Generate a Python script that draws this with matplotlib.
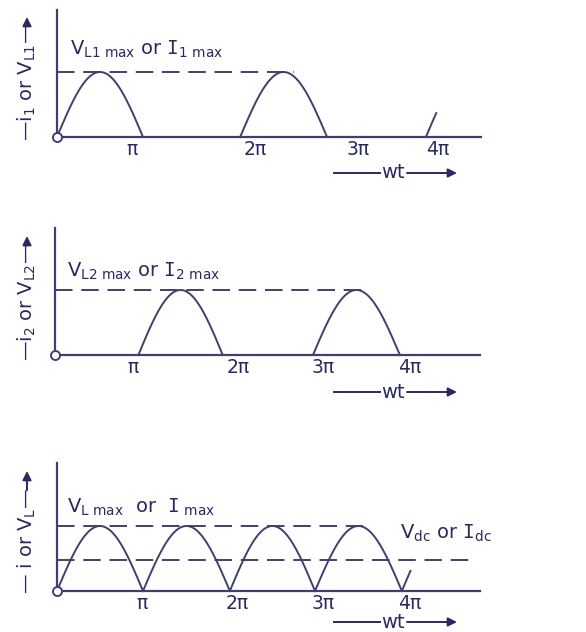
import numpy as np
import matplotlib
matplotlib.use("Agg")
import matplotlib.pyplot as plt

plt.rcParams['mathtext.default'] = 'regular'
plt.rcParams['font.family'] = ['DejaVu Sans']

W, H = 586, 632
LINE = '#40406f'
TEXT = '#2a2a62'

# ---- data (x in units of pi, y relative to max) ----
tick_labels = ['π', '2π', '3π', '4π']

p1_humps = [(0.0, 1.0), (2.13, 3.14)]
p1_stub = (4.29, 0.12)           # start of next half-cycle (start, fraction drawn)
p1_ticks = [0.87, 2.30, 3.50, 4.43]
p1_max_end = 2.75

p2_humps = [(0.97, 1.95), (3.0, 4.01)]
p2_ticks = [0.91, 2.13, 3.12, 4.13]
p2_max_end = 3.57

p3_humps = [(0.0, 1.0), (1.0, 2.01), (2.01, 3.0), (3.0, 4.01)]
p3_stub = (4.01, 0.10)
p3_ticks = [0.99, 2.09, 3.09, 4.10]
p3_max_end = 3.56
p3_dc = 0.48
p3_dc_end = 4.83

fig = plt.figure(figsize=(W / 100, H / 100), dpi=100)
fig.patch.set_facecolor('white')

PX_PER_PI = 86.0
PX_PER_UNIT = 65.0


def make_axes(x0, base, top, xend):
    ax = fig.add_axes([x0 / W, 1 - base / H, (xend - x0) / W, (base - top) / H])
    ax.set_xlim(0, (xend - x0) / PX_PER_PI)
    ax.set_ylim(0, (base - top) / PX_PER_UNIT)
    for s in ('top', 'right'):
        ax.spines[s].set_visible(False)
    for s in ('left', 'bottom'):
        ax.spines[s].set_color(LINE)
        ax.spines[s].set_linewidth(1.6)
    ax.set_yticks([])
    ax.patch.set_alpha(0)
    return ax


def hump(ax, a, b, frac=1.0):
    t = np.linspace(0, frac, 80)
    ax.plot(a + (b - a) * t, np.sin(np.pi * t), color=LINE, lw=1.4,
            clip_on=False, zorder=3)


def dashed(ax, y, x_end):
    ax.plot([0, x_end], [y, y], color=LINE, lw=1.4, ls=(0, (9, 4.5)),
            clip_on=False, zorder=2)


def ticks(ax, pos):
    ax.set_xticks(pos)
    ax.set_xticklabels(tick_labels, fontsize=13.5, color=TEXT)
    ax.tick_params(axis='x', length=0, pad=2)


def origin(ax):
    ax.plot([0], [0], 'o', ms=6.5, mfc='white', mec=LINE, mew=1.4,
            clip_on=False, zorder=6)


# panel 1
ax1 = make_axes(57, 137, 10, 481)
for a, b in p1_humps:
    hump(ax1, a, b)
hump(ax1, p1_stub[0], p1_stub[0] + 1.0, p1_stub[1])
dashed(ax1, 1.0, p1_max_end)
ticks(ax1, p1_ticks)
origin(ax1)

# panel 2
ax2 = make_axes(55, 355, 228, 480)
for a, b in p2_humps:
    hump(ax2, a, b)
dashed(ax2, 1.0, p2_max_end)
ticks(ax2, p2_ticks)
origin(ax2)

# panel 3
ax3 = make_axes(57, 591, 463, 480)
for a, b in p3_humps:
    hump(ax3, a, b)
hump(ax3, p3_stub[0], p3_stub[0] + 1.0, p3_stub[1])
dashed(ax3, 1.0, p3_max_end)
dashed(ax3, p3_dc, p3_dc_end)
ticks(ax3, p3_ticks)
origin(ax3)

# overlay in pixel coordinates for annotations
ov = fig.add_axes([0, 0, 1, 1])
ov.set_xlim(0, W)
ov.set_ylim(H, 0)
ov.axis('off')
ov.patch.set_alpha(0)

FS = 14
ov.text(70, 49, r'V$_{L1\ max}$ or $\mathtt{I}_{1\ max}$', fontsize=FS, color=TEXT,
        ha='left', va='center')
ov.text(67, 271, r'V$_{L2\ max}$ or $\mathtt{I}_{2\ max}$', fontsize=FS, color=TEXT,
        ha='left', va='center')
ov.text(67, 507, r'V$_{L\ max}$  or  $\mathtt{I}_{\ max}$', fontsize=FS, color=TEXT,
        ha='left', va='center')
ov.text(400, 533, r'V$_{dc}$ or $\mathtt{I}_{dc}$', fontsize=FS, color=TEXT,
        ha='left', va='center')

# rotated axis labels with upward arrows
ylabels = [(r'—i$_1$ or V$_{L1}$—', 141, 17),
           (r'—i$_2$ or V$_{L2}$—', 361, 236),
           (r'— i or V$_L$—', 594, 471)]
renderer = fig.canvas.get_renderer()
for txt, ybot, ytip in ylabels:
    t = ov.text(27, ybot, txt, rotation=90, fontsize=FS, color=TEXT,
                ha='center', va='bottom')
    bb = t.get_window_extent(renderer)
    ytop_px = H - bb.y1 + 2
    ov.annotate('', xy=(27, ytip), xytext=(27, ytop_px),
                arrowprops=dict(arrowstyle='-|>', color=TEXT, lw=1.4,
                                mutation_scale=13, shrinkA=0, shrinkB=0))

# wt arrows
for yy in (173, 392, 622):
    ov.plot([334, 380], [yy, yy], color=TEXT, lw=1.4)
    ov.text(393, yy, 'wt', fontsize=FS, color=TEXT, ha='center', va='center')
    ov.annotate('', xy=(457, yy), xytext=(407, yy),
                arrowprops=dict(arrowstyle='-|>', color=TEXT, lw=1.4,
                                mutation_scale=13, shrinkA=0, shrinkB=0))

fig.savefig('out.png', dpi=100, facecolor='white')
